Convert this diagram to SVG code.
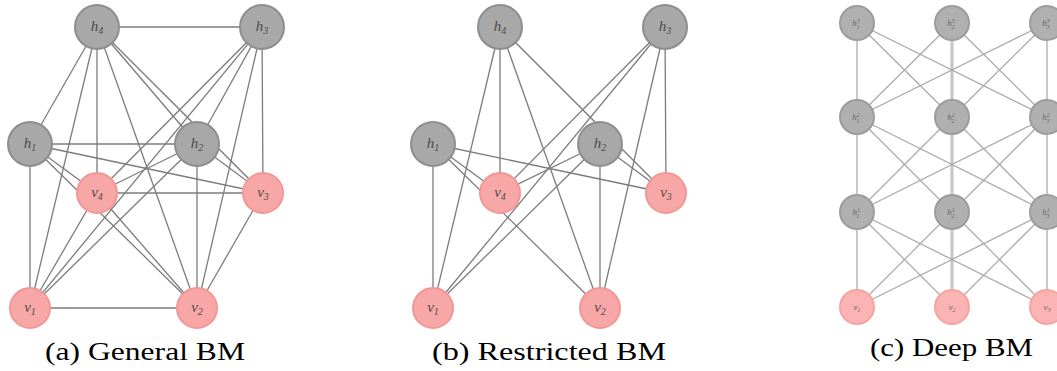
<svg xmlns="http://www.w3.org/2000/svg" width="1057" height="371" viewBox="0 0 1057 371">
<style>
.e{stroke:#7c7c7c;stroke-width:1.3;fill:none}
.ec{stroke:#ababab;stroke-width:1.3;fill:none}
.ecm{stroke:#c4c4c4;stroke-width:3;fill:none}
.h{fill:#a8a8a8;stroke:#8e8e8e;stroke-width:2}
.v{fill:#f8a7a7;stroke:#f29696;stroke-width:2}
.hc{fill:#b0b0b0;stroke:#9c9c9c;stroke-width:2}
.vc{fill:#fbb3b3;stroke:#f6a3a3;stroke-width:2}
.l{font-family:"Liberation Serif",serif;font-style:italic;font-size:15px;fill:#4a4a4a;text-anchor:middle}
.s{font-size:10px}
.lc{font-family:"Liberation Serif",serif;font-style:italic;font-size:9px;fill:#666;text-anchor:middle}
.sc{font-size:6px}
.cap{font-family:"Liberation Serif",serif;font-size:26px;fill:#000}
</style>
<rect width="1057" height="371" fill="#fff"/>
<g id="connectors">
 <g id="edges-a">
  <line class="e" x1="30" y1="144" x2="30" y2="308"/>
  <line class="e" x1="30" y1="144" x2="197" y2="308"/>
  <line class="e" x1="30" y1="144" x2="263" y2="193"/>
  <line class="e" x1="30" y1="144" x2="97" y2="193"/>
  <line class="e" x1="197" y1="144" x2="30" y2="308"/>
  <line class="e" x1="197" y1="144" x2="197" y2="308"/>
  <line class="e" x1="197" y1="144" x2="263" y2="193"/>
  <line class="e" x1="197" y1="144" x2="97" y2="193"/>
  <line class="e" x1="262" y1="27" x2="30" y2="308"/>
  <line class="e" x1="262" y1="27" x2="197" y2="308"/>
  <line class="e" x1="262" y1="27" x2="263" y2="193"/>
  <line class="e" x1="262" y1="27" x2="97" y2="193"/>
  <line class="e" x1="97" y1="27" x2="30" y2="308"/>
  <line class="e" x1="97" y1="27" x2="197" y2="308"/>
  <line class="e" x1="97" y1="27" x2="263" y2="193"/>
  <line class="e" x1="97" y1="27" x2="97" y2="193"/>
  <line class="e" x1="30" y1="144" x2="197" y2="144"/>
  <line class="e" x1="30" y1="144" x2="97" y2="27"/>
  <line class="e" x1="197" y1="144" x2="262" y2="27"/>
  <line class="e" x1="197" y1="144" x2="97" y2="27"/>
  <line class="e" x1="97" y1="27" x2="262" y2="27"/>
  <line class="e" x1="30" y1="308" x2="197" y2="308"/>
  <line class="e" x1="30" y1="308" x2="97" y2="193"/>
  <line class="e" x1="197" y1="308" x2="263" y2="193"/>
  <line class="e" x1="197" y1="308" x2="97" y2="193"/>
  <line class="e" x1="97" y1="193" x2="263" y2="193"/>
 </g>
 <g id="edges-b">
  <line class="e" x1="433" y1="144" x2="433" y2="308"/>
  <line class="e" x1="433" y1="144" x2="600" y2="308"/>
  <line class="e" x1="433" y1="144" x2="666" y2="193"/>
  <line class="e" x1="433" y1="144" x2="500" y2="193"/>
  <line class="e" x1="600" y1="144" x2="433" y2="308"/>
  <line class="e" x1="600" y1="144" x2="600" y2="308"/>
  <line class="e" x1="600" y1="144" x2="666" y2="193"/>
  <line class="e" x1="600" y1="144" x2="500" y2="193"/>
  <line class="e" x1="665" y1="27" x2="433" y2="308"/>
  <line class="e" x1="665" y1="27" x2="600" y2="308"/>
  <line class="e" x1="665" y1="27" x2="666" y2="193"/>
  <line class="e" x1="665" y1="27" x2="500" y2="193"/>
  <line class="e" x1="500" y1="27" x2="433" y2="308"/>
  <line class="e" x1="500" y1="27" x2="600" y2="308"/>
  <line class="e" x1="500" y1="27" x2="666" y2="193"/>
  <line class="e" x1="500" y1="27" x2="500" y2="193"/>
 </g>
 <g id="edges-c">
  <path class="ecm" d="M952,23V307"/>
  <path class="ec" d="M857,23L857,117M857,23L952,117M857,23L1047,117M952,23L857,117M952,23L1047,117M1047,23L857,117M1047,23L952,117M1047,23L1047,117"/>
  <path class="ec" d="M857,117L857,212M857,117L952,212M857,117L1047,212M952,117L857,212M952,117L1047,212M1047,117L857,212M1047,117L952,212M1047,117L1047,212"/>
  <path class="ec" d="M857,212L857,307M857,212L952,307M857,212L1047,307M952,212L857,307M952,212L1047,307M1047,212L857,307M1047,212L952,307M1047,212L1047,307"/>
 </g>
</g>
<g id="panel-a">
 <g id="a-h4"><circle class="h" cx="97" cy="27" r="22"/><text class="l" x="97" y="31">h<tspan class="s" dy="3">4</tspan></text></g>
 <g id="a-h3"><circle class="h" cx="262" cy="27" r="22"/><text class="l" x="262" y="31">h<tspan class="s" dy="3">3</tspan></text></g>
 <g id="a-h1"><circle class="h" cx="30" cy="144" r="22"/><text class="l" x="30" y="148">h<tspan class="s" dy="3">1</tspan></text></g>
 <g id="a-h2"><circle class="h" cx="197" cy="144" r="22"/><text class="l" x="197" y="148">h<tspan class="s" dy="3">2</tspan></text></g>
 <g id="a-v4"><circle class="v" cx="97" cy="193" r="20"/><text class="l" x="97" y="197">v<tspan class="s" dy="3">4</tspan></text></g>
 <g id="a-v3"><circle class="v" cx="263" cy="193" r="20"/><text class="l" x="263" y="197">v<tspan class="s" dy="3">3</tspan></text></g>
 <g id="a-v1"><circle class="v" cx="30" cy="308" r="20"/><text class="l" x="30" y="312">v<tspan class="s" dy="3">1</tspan></text></g>
 <g id="a-v2"><circle class="v" cx="197" cy="308" r="20"/><text class="l" x="197" y="312">v<tspan class="s" dy="3">2</tspan></text></g>
</g>
<g id="panel-b">
 <g id="b-h4"><circle class="h" cx="500" cy="27" r="22"/><text class="l" x="500" y="31">h<tspan class="s" dy="3">4</tspan></text></g>
 <g id="b-h3"><circle class="h" cx="665" cy="27" r="22"/><text class="l" x="665" y="31">h<tspan class="s" dy="3">3</tspan></text></g>
 <g id="b-h1"><circle class="h" cx="433" cy="144" r="22"/><text class="l" x="433" y="148">h<tspan class="s" dy="3">1</tspan></text></g>
 <g id="b-h2"><circle class="h" cx="600" cy="144" r="22"/><text class="l" x="600" y="148">h<tspan class="s" dy="3">2</tspan></text></g>
 <g id="b-v4"><circle class="v" cx="500" cy="193" r="20"/><text class="l" x="500" y="197">v<tspan class="s" dy="3">4</tspan></text></g>
 <g id="b-v3"><circle class="v" cx="666" cy="193" r="20"/><text class="l" x="666" y="197">v<tspan class="s" dy="3">3</tspan></text></g>
 <g id="b-v1"><circle class="v" cx="433" cy="308" r="20"/><text class="l" x="433" y="312">v<tspan class="s" dy="3">1</tspan></text></g>
 <g id="b-v2"><circle class="v" cx="600" cy="308" r="20"/><text class="l" x="600" y="312">v<tspan class="s" dy="3">2</tspan></text></g>
</g>
<g id="panel-c">
 <g id="c-h3-1"><circle class="hc" cx="857" cy="23" r="17"/><text class="lc" x="856" y="26">h<tspan class="sc" dy="-3">3</tspan><tspan class="sc" dx="-3.3" dy="6">1</tspan></text></g>
 <g id="c-h3-2"><circle class="hc" cx="952" cy="23" r="17"/><text class="lc" x="951" y="26">h<tspan class="sc" dy="-3">3</tspan><tspan class="sc" dx="-3.3" dy="6">2</tspan></text></g>
 <g id="c-h3-3"><circle class="hc" cx="1047" cy="23" r="17"/><text class="lc" x="1046" y="26">h<tspan class="sc" dy="-3">3</tspan><tspan class="sc" dx="-3.3" dy="6">3</tspan></text></g>
 <g id="c-h2-1"><circle class="hc" cx="857" cy="117" r="17"/><text class="lc" x="856" y="120">h<tspan class="sc" dy="-3">2</tspan><tspan class="sc" dx="-3.3" dy="6">1</tspan></text></g>
 <g id="c-h2-2"><circle class="hc" cx="952" cy="117" r="17"/><text class="lc" x="951" y="120">h<tspan class="sc" dy="-3">2</tspan><tspan class="sc" dx="-3.3" dy="6">2</tspan></text></g>
 <g id="c-h2-3"><circle class="hc" cx="1047" cy="117" r="17"/><text class="lc" x="1046" y="120">h<tspan class="sc" dy="-3">2</tspan><tspan class="sc" dx="-3.3" dy="6">3</tspan></text></g>
 <g id="c-h1-1"><circle class="hc" cx="857" cy="212" r="17"/><text class="lc" x="856" y="215">h<tspan class="sc" dy="-3">1</tspan><tspan class="sc" dx="-3.3" dy="6">1</tspan></text></g>
 <g id="c-h1-2"><circle class="hc" cx="952" cy="212" r="17"/><text class="lc" x="951" y="215">h<tspan class="sc" dy="-3">1</tspan><tspan class="sc" dx="-3.3" dy="6">2</tspan></text></g>
 <g id="c-h1-3"><circle class="hc" cx="1047" cy="212" r="17"/><text class="lc" x="1046" y="215">h<tspan class="sc" dy="-3">1</tspan><tspan class="sc" dx="-3.3" dy="6">3</tspan></text></g>
 <g id="c-v1"><circle class="vc" cx="857" cy="307" r="17"/><text class="lc" x="857" y="310">v<tspan class="sc" dy="2">1</tspan></text></g>
 <g id="c-v2"><circle class="vc" cx="952" cy="307" r="17"/><text class="lc" x="952" y="310">v<tspan class="sc" dy="2">2</tspan></text></g>
 <g id="c-v3"><circle class="vc" cx="1047" cy="307" r="17"/><text class="lc" x="1047" y="310">v<tspan class="sc" dy="2">3</tspan></text></g>
</g>
<g id="captions">
 <text class="cap" x="45" y="360" textLength="200" lengthAdjust="spacingAndGlyphs">(a) General BM</text>
 <text class="cap" x="432" y="360" textLength="234" lengthAdjust="spacingAndGlyphs">(b) Restricted BM</text>
 <text class="cap" x="870" y="356" textLength="163" lengthAdjust="spacingAndGlyphs">(c) Deep BM</text>
</g>
</svg>
